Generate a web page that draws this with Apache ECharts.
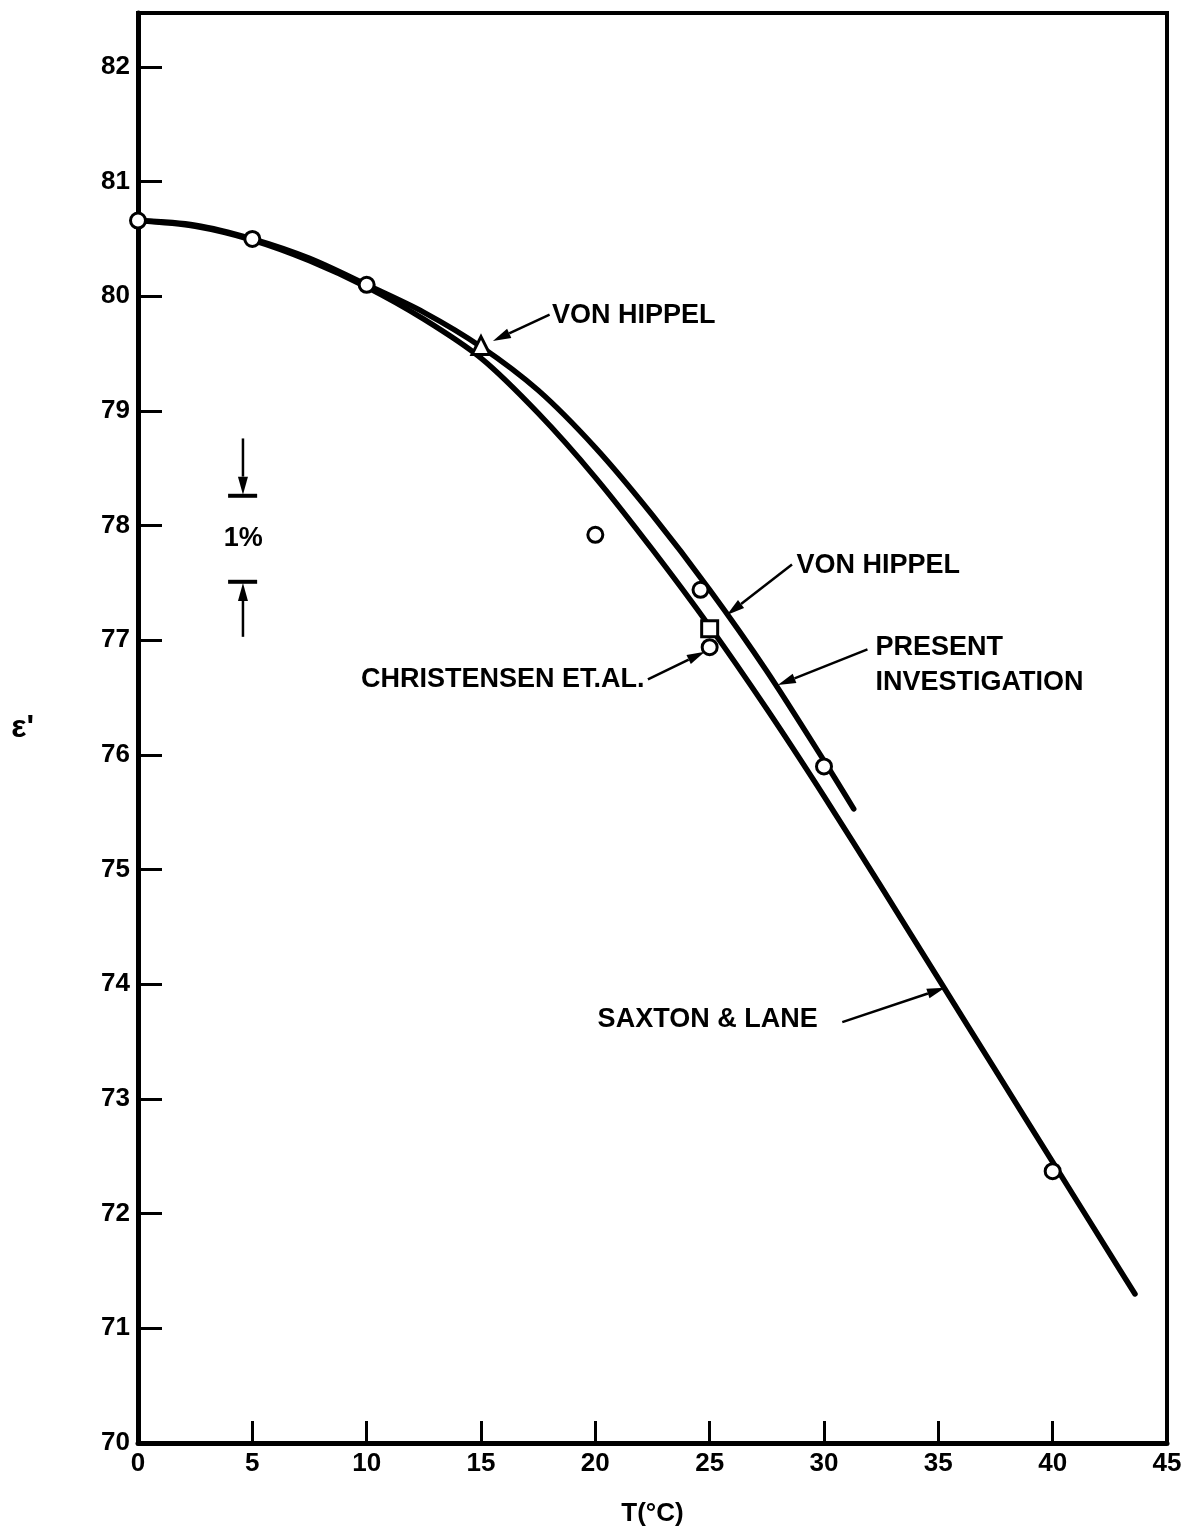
<!DOCTYPE html>
<html>
<head>
<meta charset="utf-8">
<script src="https://cdn.jsdelivr.net/npm/echarts@6/dist/echarts.min.js"></script>
<style>
  html, body { margin: 0; padding: 0; background: #fff; }
  #chart { width: 1188px; height: 1532px; }
</style>
</head>
<body>
<div id="chart"></div>
<script>
// Dielectric constant ε' of water versus temperature T (°C)

// Smooth curve: present investigation
const presentT   = [0, 2.5, 5, 7.5, 10, 12.5, 15, 17.5, 20, 22.5, 25, 27.5, 30, 31.3];
const presentEps = [80.66, 80.62, 80.50, 80.33, 80.10, 79.86, 79.56, 79.18, 78.68, 78.09, 77.44, 76.73, 75.95, 75.53];

// Smooth curve: Saxton & Lane
const saxtonT   = [0, 2.5, 5, 7.5, 10, 12.5, 15, 17.5, 20, 22.5, 25, 27.5, 30, 32.5, 35, 37.5, 40, 42.5, 43.6];
const saxtonEps = [80.66, 80.61, 80.49, 80.31, 80.08, 79.80, 79.46, 78.98, 78.42, 77.79, 77.12, 76.40, 75.64, 74.85, 74.05, 73.25, 72.45, 71.65, 71.30];

// Measured points (open circles)
const measuredT   = [0, 5, 10, 20, 24.6, 30, 40];
const measuredEps = [80.66, 80.50, 80.10, 77.92, 77.44, 75.90, 72.37];

// Von Hippel: triangle at 15 °C, square at 25 °C
const vonHippelTriT   = [15];
const vonHippelTriEps = [79.57];
const vonHippelSqT    = [25];
const vonHippelSqEps  = [77.10];

// Christensen et al.
const christensenT   = [25];
const christensenEps = [76.94];

// Axis ticks
const xTicks = [0, 5, 10, 15, 20, 25, 30, 35, 40, 45];
const yTicks = [70, 71, 72, 73, 74, 75, 76, 77, 78, 79, 80, 81, 82];
const yTop = 82.47;

// Annotation text, anchored in data units (T, ε')
const labels = [
  { text: 'VON HIPPEL', at: [18.1, 79.83] },
  { text: 'VON HIPPEL', at: [28.8, 77.65] },
  { text: 'CHRISTENSEN ET.AL.', at: [22.15, 76.66], right: true },
  { text: 'PRESENT', at: [32.25, 76.94] },
  { text: 'INVESTIGATION', at: [32.25, 76.63] },
  { text: 'SAXTON & LANE', at: [20.1, 73.69] },
  { text: '1%', at: [4.6, 77.89], center: true }
];

// Leader arrows [fromT, fromEps, toT, toEps]
const arrows = [
  [18.0, 79.84, 15.52, 79.61],
  [28.6, 77.66, 25.75, 77.22],
  [22.3, 76.66, 24.79, 76.90],
  [31.9, 76.92, 27.98, 76.61],
  [30.8, 73.67, 35.29, 73.97],
  [4.59, 78.76, 4.59, 78.27],
  [4.59, 77.03, 4.59, 77.50]
];

// 1% scale bars [fromT, eps, toT, eps]
const scaleBars = [
  [3.94, 78.26, 5.21, 78.26],
  [3.94, 77.51, 5.21, 77.51]
];

const zip = (a, b) => a.map((v, i) => [v, b[i]]);
const FONT = '"Liberation Sans", Arial, sans-serif';

const chart = echarts.init(document.getElementById('chart'), null, { renderer: 'canvas' });

const curveStyle = { color: '#000', width: 5.5, cap: 'round', join: 'round' };
const openMarker = { color: '#fff', borderColor: '#000', borderWidth: 3, opacity: 1 };

chart.setOption({
  animation: false,
  backgroundColor: '#fff',
  grid: {
    left: 138, right: 21, top: 13, bottom: 82,
    show: true, borderColor: '#000', borderWidth: 4, backgroundColor: 'transparent'
  },
  xAxis: {
    type: 'value', min: xTicks[0], max: xTicks[xTicks.length - 1], interval: 5,
    axisLine: { lineStyle: { color: '#000', width: 5 } },
    axisTick: { inside: true, length: 22, lineStyle: { color: '#000', width: 3 } },
    splitLine: { show: false },
    axisLabel: { color: '#000', fontSize: 26, fontFamily: FONT, fontWeight: 'bold', margin: 8 },
    name: 'T(°C)', nameLocation: 'middle', nameGap: 58,
    nameTextStyle: { color: '#000', fontSize: 26, fontFamily: FONT, fontWeight: 'bold' }
  },
  yAxis: {
    type: 'value', min: yTicks[0], max: yTop, interval: 1,
    axisLine: { lineStyle: { color: '#000', width: 5 } },
    axisTick: { inside: true, length: 24, lineStyle: { color: '#000', width: 3 } },
    splitLine: { show: false },
    axisLabel: {
      color: '#000', fontSize: 26, fontFamily: FONT, fontWeight: 'bold', margin: 8,
      formatter: v => (yTicks.some(t => Math.abs(t - v) < 1e-6) ? String(Math.round(v)) : '')
    },
    name: "\u03b5'", nameLocation: 'middle', nameGap: 104, nameRotate: 0,
    nameTextStyle: { color: '#000', fontSize: 32, fontFamily: FONT, fontWeight: 'bold' }
  },
  series: [
    {
      name: 'Saxton & Lane', type: 'line', data: zip(saxtonT, saxtonEps),
      showSymbol: false, smooth: 0.3, lineStyle: curveStyle, z: 2
    },
    {
      name: 'Present investigation', type: 'line', data: zip(presentT, presentEps),
      showSymbol: false, smooth: 0.3, lineStyle: curveStyle, z: 2
    },
    {
      name: 'Measured', type: 'scatter', data: zip(measuredT, measuredEps),
      symbol: 'circle', symbolSize: 15, itemStyle: openMarker, z: 5
    },
    {
      name: 'Christensen et al.', type: 'scatter', data: zip(christensenT, christensenEps),
      symbol: 'circle', symbolSize: 15, itemStyle: openMarker, z: 5
    },
    {
      name: 'Von Hippel (15)', type: 'scatter', data: zip(vonHippelTriT, vonHippelTriEps),
      symbol: 'triangle', symbolSize: 18, itemStyle: openMarker, z: 5
    },
    {
      name: 'Von Hippel (25)', type: 'scatter', data: zip(vonHippelSqT, vonHippelSqEps),
      symbol: 'rect', symbolSize: 16, itemStyle: openMarker, z: 5
    },
    {
      // leader arrows with filled heads
      type: 'custom', clip: false, z: 6, silent: true,
      data: arrows,
      renderItem: (params, api) => {
        const p1 = api.coord([api.value(0), api.value(1)]);
        const p2 = api.coord([api.value(2), api.value(3)]);
        const dx = p2[0] - p1[0], dy = p2[1] - p1[1];
        const len = Math.hypot(dx, dy) || 1;
        const ux = dx / len, uy = dy / len;
        const headL = 18, headW = 5;
        const bx = p2[0] - ux * headL, by = p2[1] - uy * headL;
        return {
          type: 'group',
          children: [
            { type: 'line', shape: { x1: p1[0], y1: p1[1], x2: bx, y2: by },
              style: { stroke: '#000', lineWidth: 2.5 } },
            { type: 'polygon',
              shape: { points: [[p2[0], p2[1]], [bx - uy * headW, by + ux * headW], [bx + uy * headW, by - ux * headW]] },
              style: { fill: '#000' } }
          ]
        };
      }
    },
    {
      // 1% scale bars
      type: 'custom', clip: false, z: 6, silent: true,
      data: scaleBars,
      renderItem: (params, api) => {
        const p1 = api.coord([api.value(0), api.value(1)]);
        const p2 = api.coord([api.value(2), api.value(3)]);
        return { type: 'line', shape: { x1: p1[0], y1: p1[1], x2: p2[0], y2: p2[1] },
                 style: { stroke: '#000', lineWidth: 4 } };
      }
    },
    {
      // annotation text
      type: 'custom', clip: false, z: 7, silent: true,
      data: labels.map((l, i) => [l.at[0], l.at[1], i]),
      renderItem: (params, api) => {
        const l = labels[api.value(2)];
        const p = api.coord([api.value(0), api.value(1)]);
        return {
          type: 'text', x: p[0], y: p[1],
          style: {
            text: l.text, fill: '#000',
            font: 'bold 27px ' + FONT,
            align: l.center ? 'center' : (l.right ? 'right' : 'left'),
            verticalAlign: 'middle'
          }
        };
      }
    }
  ]
});
</script>
</body>
</html>
